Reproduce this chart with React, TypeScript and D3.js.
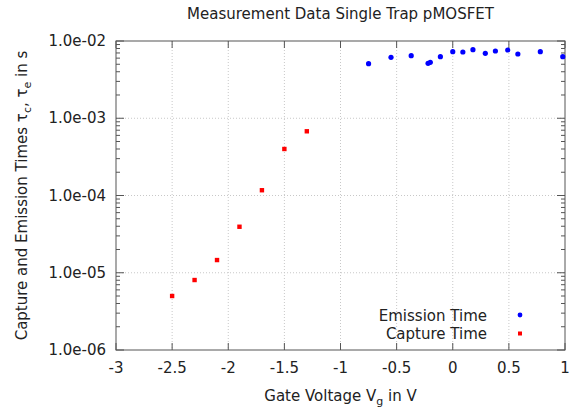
import React from "react";
import * as d3 from "d3";

const emissionV = [-0.75, -0.55, -0.37, -0.22, -0.2, -0.11, 0.0, 0.09, 0.18, 0.29, 0.38, 0.49, 0.58, 0.78, 0.98];
const emissionT = [5.08e-3, 6.15e-3, 6.45e-3, 5.14e-3, 5.3e-3, 6.26e-3, 7.27e-3, 7.2e-3, 7.72e-3, 6.92e-3, 7.42e-3, 7.65e-3, 6.79e-3, 7.27e-3, 6.26e-3];
const captureV = [-2.5, -2.3, -2.1, -1.9, -1.7, -1.5, -1.3];
const captureT = [5.0e-6, 8.05e-6, 1.46e-5, 3.94e-5, 1.17e-4, 4.0e-4, 6.78e-4];
const xTicks = [-3, -2.5, -2, -1.5, -1, -0.5, 0, 0.5, 1];
const xTickLabels = ["-3", "-2.5", "-2", "-1.5", "-1", "-0.5", "0", "0.5", "1"];
const yTicks = [1e-6, 1e-5, 1e-4, 1e-3, 1e-2];
const yTickLabels = ["1.0e-06", "1.0e-05", "1.0e-04", "1.0e-03", "1.0e-02"];

const W = 569, H = 414;
const L = 116, R = 565, T = 41, B = 350;
const FONT = "'DejaVu Sans', sans-serif";
const AX = "#555";
const FS = 15;

export default function App() {
  const x = d3.scaleLinear().domain([-3, 1]).range([L, R]);
  const y = d3.scaleLog().domain([1e-6, 1e-2]).range([B, T]);
  const minor: number[] = [];
  for (let e = -6; e < -2; e++) for (let m = 2; m <= 9; m++) minor.push(m * Math.pow(10, e));
  const cx = (L + R) / 2;
  return (
    <svg width={W} height={H} style={{ position: "absolute", left: 0, top: 0, background: "#fff", fontFamily: FONT }}>
      <rect width={W} height={H} fill="#fff" />
      {xTicks.slice(1, -1).map((t, i) => (
        <line key={"gx" + i} x1={x(t)} x2={x(t)} y1={T} y2={B} stroke="#c8c8c8" strokeDasharray="1,2" />
      ))}
      {yTicks.slice(1, -1).map((t, i) => (
        <line key={"gy" + i} x1={L} x2={R} y1={y(t)} y2={y(t)} stroke="#c8c8c8" strokeDasharray="1,2" />
      ))}
      {xTicks.map((t, i) => (
        <g key={"xt" + i}>
          <line x1={x(t)} x2={x(t)} y1={B} y2={B - 7} stroke={AX} />
          <line x1={x(t)} x2={x(t)} y1={T} y2={T + 7} stroke={AX} />
          <text x={x(t)} y={373} textAnchor="middle" fontSize={FS} fill="#222">{xTickLabels[i]}</text>
        </g>
      ))}
      {yTicks.map((t, i) => (
        <g key={"yt" + i}>
          <line x1={L} x2={L + 8} y1={y(t)} y2={y(t)} stroke={AX} />
          <line x1={R} x2={R - 8} y1={y(t)} y2={y(t)} stroke={AX} />
          <text x={106} y={y(t) + 5} textAnchor="end" fontSize={FS} fill="#222">{yTickLabels[i]}</text>
        </g>
      ))}
      {minor.map((t, i) => (
        <g key={"ym" + i}>
          <line x1={L} x2={L + 4} y1={y(t)} y2={y(t)} stroke={AX} />
          <line x1={R} x2={R - 4} y1={y(t)} y2={y(t)} stroke={AX} />
        </g>
      ))}
      <rect x={L} y={T} width={R - L} height={B - T} fill="none" stroke={AX} />
      {emissionV.map((v, i) => (
        <circle key={"e" + i} cx={x(v)} cy={y(emissionT[i])} r={2.6} fill="#0000ff" />
      ))}
      {captureV.map((v, i) => (
        <rect key={"c" + i} x={x(v) - 2.2} y={y(captureT[i]) - 2.2} width={4.4} height={4.4} fill="#ff0000" />
      ))}
      <text x={487} y={321} textAnchor="end" fontSize={FS} fill="#222">Emission Time</text>
      <circle cx={520} cy={315} r={2.4} fill="#0000ff" />
      <text x={487} y={339} textAnchor="end" fontSize={FS} fill="#222">Capture Time</text>
      <rect x={518} y={331.5} width={4} height={4} fill="#ff0000" />
      <text x={cx} y={19} textAnchor="middle" fontSize={FS} fill="#222">Measurement Data Single Trap pMOSFET</text>
      <text x={cx} y={401} textAnchor="middle" fontSize={FS} fill="#222">
        Gate Voltage V<tspan fontSize={11} dy={4}>g</tspan><tspan dy={-4}> in V</tspan>
      </text>
      <text transform={`translate(27,${(T + B) / 2}) rotate(-90)`} textAnchor="middle" fontSize={FS} fill="#222">
        Capture and Emission Times τ<tspan fontSize={11} dy={4}>c</tspan><tspan dy={-4}>, τ</tspan><tspan fontSize={11} dy={4}>e</tspan><tspan dy={-4}> in s</tspan>
      </text>
    </svg>
  );
}
